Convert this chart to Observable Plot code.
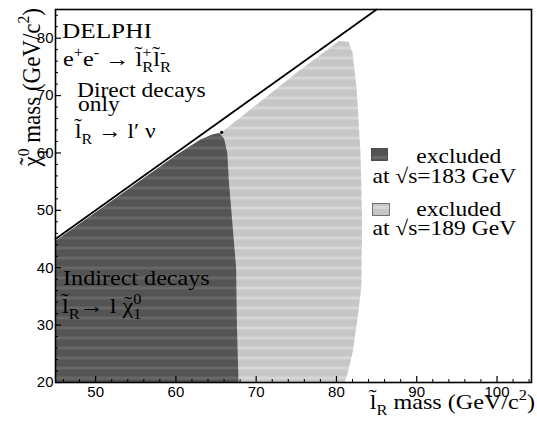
<!DOCTYPE html>
<html>
<head>
<meta charset="utf-8">
<script src="https://cdn.jsdelivr.net/npm/d3@7"></script>
<script src="https://cdn.jsdelivr.net/npm/@observablehq/plot@0.6"></script>
<style>
  html, body { margin: 0; padding: 0; background: white; }
</style>
</head>
<body>
<div id="chart"></div>
<script>
// ---- data ----
const diagonalX = [45, 85];
const diagonalY = [45, 85];

const excluded183X = [45, 45, 60, 63, 64.5, 65.4, 66.0, 66.4, 66.6, 66.9, 67.5, 67.6, 67.8];
const excluded183Y = [20, 44.7, 59.6, 62.3, 63.2, 63.5, 62.5, 60, 55, 50, 40, 30, 20];

const excluded189X = [45, 45, 65.7, 70.3, 75.3, 80.3, 81.5, 82.0, 82.5, 83.0, 83.2, 83.1, 82.6, 82.0, 81.4, 81.0];
const excluded189Y = [20, 44, 63.6, 68.7, 74.3, 79.5, 79.4, 77.5, 71.5, 60, 48.3, 36.6, 30.9, 25.1, 21.6, 20];

const markerX = [65.7];
const markerY = [63.6];

const xMajorTicks = [50, 60, 70, 80, 90, 100];
const xMinorTicks = [46, 48, 52, 54, 56, 58, 62, 64, 66, 68, 72, 74, 76, 78, 82, 84, 86, 88, 92, 94, 96, 98, 102, 104];
const yMajorTicks = [20, 30, 40, 50, 60, 70, 80];
const yMinorTicks = [22, 24, 26, 28, 32, 34, 36, 38, 42, 44, 46, 48, 52, 54, 56, 58, 62, 64, 66, 68, 72, 74, 76, 78, 82, 84];

const legendEnergies = ["183", "189"];
const legendColors = ["#545454", "#c6c6c6"];
const legendBands = ["#676767", "#d6d6d6"];

// ---- build ----
const W = 537, H = 428;
const mL = 55, mR = 6, mT = 9, mB = 46;
const frameW = W - mL - mR, frameH = H - mT - mB;

const pts = (xs, ys) => xs.map((x, i) => ({x, y: ys[i]}));

const plot = Plot.plot({
  width: W, height: H,
  marginLeft: mL, marginRight: mR, marginTop: mT, marginBottom: mB,
  x: {domain: [45, 104.3]},
  y: {domain: [20, 85]},
  style: {background: "white", fontFamily: "Liberation Sans", color: "black"},
  marks: [
    Plot.line(pts(excluded189X, excluded189Y), {x: "x", y: "y", fill: legendColors[1], stroke: "none", curve: "linear"}),
    Plot.line(pts(excluded183X, excluded183Y), {x: "x", y: "y", fill: legendColors[0], stroke: "none", curve: "linear"}),
    Plot.line(pts(diagonalX, diagonalY), {x: "x", y: "y", stroke: "black", strokeWidth: 1.8}),
    Plot.dot(pts(markerX, markerY), {x: "x", y: "y", r: 1.6, fill: "black", stroke: "none"}),
    Plot.ruleX(xMajorTicks, {x: d => d, insetTop: frameH - 6, stroke: "black", strokeWidth: 1.2}),
    Plot.ruleX(xMinorTicks, {x: d => d, insetTop: frameH - 3, stroke: "black", strokeWidth: 1}),
    Plot.ruleY(yMajorTicks, {y: d => d, insetRight: frameW - 6, stroke: "black", strokeWidth: 1.2}),
    Plot.ruleY(yMinorTicks, {y: d => d, insetRight: frameW - 3, stroke: "black", strokeWidth: 1}),
    Plot.axisX(xMajorTicks, {tickSize: 0, tickPadding: 4, fontSize: 15, label: null, fill: "black"}),
    Plot.axisY(yMajorTicks, {tickSize: 0, tickPadding: 2, fontSize: 15, label: null, fill: "black"}),
    Plot.frame({stroke: "black", strokeWidth: 1.6}),
    Plot.rect([0], {x1: 84.43, x2: 86.42, y1: 58.6, y2: 60.7, fill: legendColors[0], stroke: "#333", strokeWidth: 0.8}),
    Plot.rect([0], {x1: 84.55, x2: 86.67, y1: 49.0, y2: 51.1, fill: legendColors[1], stroke: "#555", strokeWidth: 0.8})
  ]
});

document.getElementById("chart").appendChild(plot);

// banded textures like the scanned original
const svg = d3.select(plot);
const filled = legendColors.map(c => svg.selectAll(`[fill="${c}"]`));
const defs = svg.insert("defs", ":first-child");
legendColors.forEach((c, i) => {
  const p = defs.append("pattern").attr("id", "tex" + i)
    .attr("patternUnits", "userSpaceOnUse").attr("width", 8).attr("height", 10);
  p.append("rect").attr("width", 8).attr("height", 10).attr("fill", c);
  p.append("rect").attr("y", 6).attr("width", 8).attr("height", 3).attr("fill", legendBands[i]);
  filled[i].attr("fill", `url(#tex${i})`);
});

const sx = plot.scale("x"), sy = plot.scale("y");
const serif = "Liberation Serif, Times New Roman, serif";
const g = svg.append("g").attr("class", "annotations");

// parts: string (normal) or [text, kind]; kinds: sup, sub, subS (sub stacked under previous sup), acc (accent over previous glyph)
function richText(parts, {x, y, size, anchor = "start", stretch = 1, rotate = 0}) {
  const t = g.append("text")
    .attr("transform", rotate
      ? `translate(${x},${y}) rotate(${rotate}) scale(1,${stretch})`
      : `translate(${x},${y}) scale(${stretch},1)`)
    .attr("font-family", serif)
    .attr("font-size", size)
    .attr("text-anchor", anchor)
    .attr("fill", "black");
  let shift = 0, supW = 0, prevW = 0, pendingDx = 0;
  for (const p of parts) {
    const [txt, kind] = typeof p === "string" ? [p, "n"] : p;
    const target = kind.startsWith("sup") ? -0.42 * size
      : kind.startsWith("sub") ? 0.3 * size
      : kind === "acc" ? -0.12 * size : 0;
    const ts = t.append("tspan").text(txt).attr("dy", target - shift);
    shift = target;
    if (kind === "sup" || kind === "sub" || kind === "subS") ts.attr("font-size", 0.68 * size);
    let dx = pendingDx;
    pendingDx = 0;
    if (kind === "subS") dx += -supW;
    if (kind === "acc") {
      const aw = ts.node().getComputedTextLength();
      dx += -(prevW + aw) / 2;
      pendingDx = (prevW - aw) / 2;
    }
    if (dx) ts.attr("dx", dx);
    const w = ts.node().getComputedTextLength();
    if (kind === "sup") supW = w;
    if (kind !== "acc") prevW = w;
  }
  return t;
}

const lt = "l\u0303";       // slepton l-tilde
const chiParts = ["\u03C7", ["\u02DC", "acc"]]; // chi with tilde accent

richText(["DELPHI"], {x: sx.apply(45.87), y: sy.apply(80.0), size: 22, stretch: 1.15});
richText(["e", ["+", "sup"], "e", ["-", "sup"], " \u2192 ", lt, ["+", "sup"], ["R", "subS"], lt, ["-", "sup"], ["R", "subS"]],
  {x: sx.apply(45.99), y: sy.apply(75.1), size: 22, stretch: 1.1});
richText(["Direct decays"], {x: sx.apply(47.74), y: sy.apply(69.6), size: 21, stretch: 1.12});
richText(["only"], {x: sx.apply(47.86), y: sy.apply(67.3), size: 21, stretch: 1.12});
richText([lt, ["R", "sub"], " \u2192 l\u2032 \u03BD"], {x: sx.apply(47.5), y: sy.apply(62.6), size: 21, stretch: 1.12});
richText(["Indirect decays"], {x: sx.apply(46.0), y: sy.apply(36.9), size: 21, stretch: 1.15});
richText([lt, ["R", "sub"], "\u2192 l ", ...chiParts, ["0", "sup"], ["1", "subS"]], {x: sx.apply(45.87), y: sy.apply(32.0), size: 21, stretch: 1.15});

// legend labels
richText(["excluded"], {x: sx.apply(90.02), y: sy.apply(58.1), size: 21, stretch: 1.12});
richText(["at \u221As=" + legendEnergies[0] + " GeV"], {x: sx.apply(84.55), y: sy.apply(54.6), size: 21, stretch: 1.12});
richText(["excluded"], {x: sx.apply(90.02), y: sy.apply(49.0), size: 21, stretch: 1.12});
richText(["at \u221As=" + legendEnergies[1] + " GeV"], {x: sx.apply(84.55), y: sy.apply(45.6), size: 21, stretch: 1.12});

// axis titles
richText([lt, ["R", "sub"], " mass (GeV/c", ["2", "sup"], ")"], {x: 535, y: 409, size: 21, anchor: "end", stretch: 1.15});
richText([...chiParts, ["0", "sup"], ["1", "subS"], " mass (GeV/c", ["2", "sup"], ")"], {x: 40, y: 8, size: 23, anchor: "end", rotate: -90, stretch: 1.1});
</script>
</body>
</html>
